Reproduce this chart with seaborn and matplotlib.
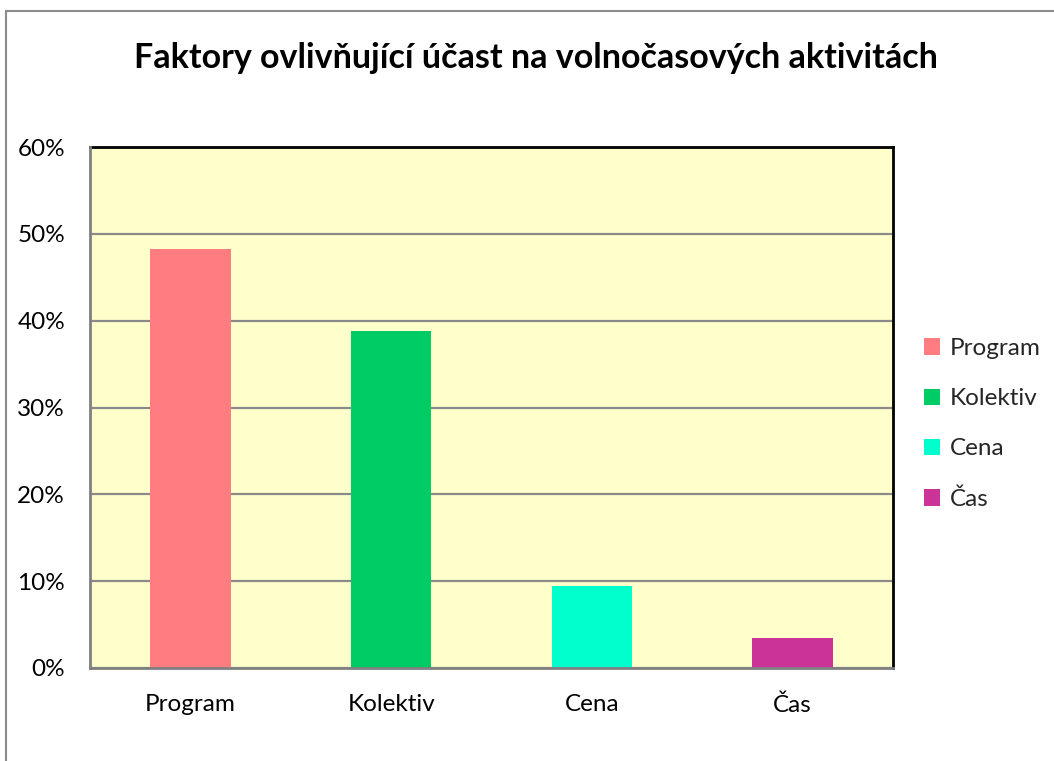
import matplotlib
matplotlib.use("Agg")
import matplotlib.pyplot as plt
import seaborn as sns
import pandas as pd
from matplotlib.patches import Rectangle
from matplotlib.ticker import FuncFormatter

categories = ["Program", "Kolektiv", "Cena", "Čas"]
values = [48.3, 38.8, 9.4, 3.5]
colors = ["#FF7C80", "#00CC66", "#00FFCC", "#CC3399"]
yticks = [0, 10, 20, 30, 40, 50, 60]
title = "Faktory ovlivňující účast na volnočasových aktivitách"

sns.set_theme(style="white")
plt.rcParams['font.family'] = ['Lato', 'DejaVu Sans']

df = pd.DataFrame({"cat": categories, "val": values})

W, H = 1054, 761
fig = plt.figure(figsize=(W / 100, H / 100), dpi=100)
fig.patch.set_facecolor("white")
# outer chart border
fig.add_artist(Rectangle((6 / W, -0.05), 1.2, 1 - 11 / H + 0.05, transform=fig.transFigure,
                         fill=False, edgecolor="#8C8C8C", linewidth=1.5))

ax = fig.add_axes([90 / W, 1 - 668 / H, (893 - 90) / W, (668 - 147) / H])
ax.set_facecolor("#FFFFCC")

sns.barplot(data=df, x="cat", y="val", hue="cat", palette=colors, width=0.4,
            dodge=False, saturation=1, legend=True, ax=ax, zorder=3,
            linewidth=0, edgecolor="none")

ax.set_ylim(0, 60)
ax.set_yticks(yticks)
ax.yaxis.set_major_formatter(FuncFormatter(lambda v, p: f"{int(v)}%"))
ax.grid(axis="y", color="#8A8A8A", linewidth=1.6, zorder=0)
ax.set_axisbelow(True)
ax.set_xlabel("")
ax.set_ylabel("")
ax.tick_params(axis="both", length=0, labelsize=17.5, colors="black")
ax.tick_params(axis="x", pad=19)
ax.tick_params(axis="y", pad=18)

for s in ["top", "right"]:
    ax.spines[s].set_color("black")
    ax.spines[s].set_linewidth(2)
for s in ["left", "bottom"]:
    ax.spines[s].set_color("#808080")
    ax.spines[s].set_linewidth(2)
    ax.spines[s].set_zorder(5)

leg = ax.legend(loc="center left", bbox_to_anchor=(902 / W, 1 - 424 / H),
                bbox_transform=fig.transFigure, frameon=False, fontsize=17.5,
                handlelength=0.65, handleheight=0.65, handletextpad=0.4,
                labelspacing=1.2, title=None)

fig.text(536 / W, 1 - 58 / H, title, ha="center", va="center",
         fontsize=24.5, fontweight="bold", color="black")

fig.savefig("out.png", dpi=100, facecolor="white")
